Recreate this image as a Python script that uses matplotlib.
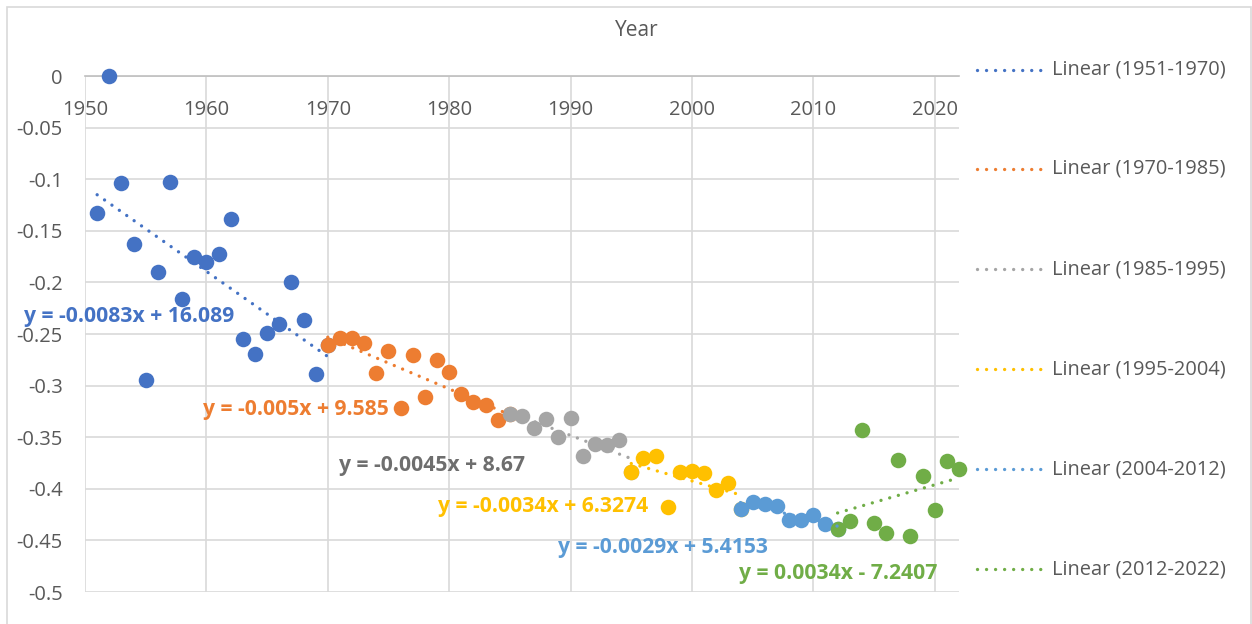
import numpy as np
import matplotlib
matplotlib.use("Agg")
import matplotlib.pyplot as plt
from matplotlib.patches import Rectangle

plt.rcParams['font.family'] = ['Open Sans', 'DejaVu Sans']

# yearly values, one array per period (endpoints shared between periods)
years_1 = list(range(1951, 1971))
vals_1 = [-0.133, 0.0, -0.104, -0.163, -0.295, -0.190, -0.103, -0.216, -0.175, -0.180,
          -0.172, -0.139, -0.255, -0.269, -0.249, -0.240, -0.200, -0.236, -0.289, -0.261]
years_2 = list(range(1970, 1986))
vals_2 = [-0.261, -0.254, -0.254, -0.259, -0.288, -0.266, -0.322, -0.270, -0.311, -0.275,
          -0.287, -0.308, -0.316, -0.319, -0.333, -0.328]
years_3 = list(range(1985, 1996))
vals_3 = [-0.328, -0.329, -0.341, -0.332, -0.350, -0.331, -0.368, -0.357, -0.358, -0.353,
          -0.384]
years_4 = list(range(1995, 2005))
vals_4 = [-0.384, -0.370, -0.368, -0.418, -0.384, -0.383, -0.385, -0.401, -0.394, -0.420]
years_5 = list(range(2004, 2013))
vals_5 = [-0.420, -0.413, -0.415, -0.417, -0.430, -0.430, -0.425, -0.434, -0.439]
years_6 = list(range(2012, 2023))
vals_6 = [-0.439, -0.431, -0.343, -0.433, -0.443, -0.372, -0.446, -0.388, -0.421, -0.373,
          -0.381]

series = [
    (years_1, vals_1, '#4472C4', '#4472C4', 'Linear (1951-1970)', 'y = -0.0083x + 16.089', (1945.0, -0.2326)),
    (years_2, vals_2, '#ED7D31', '#ED7D31', 'Linear (1970-1985)', 'y = -0.005x + 9.585', (1959.7, -0.3227)),
    (years_3, vals_3, '#A5A5A5', '#6E6E6E', 'Linear (1985-1995)', 'y = -0.0045x + 8.67', (1970.9, -0.377)),
    (years_4, vals_4, '#FFC000', '#FFC000', 'Linear (1995-2004)', 'y = -0.0034x + 6.3274', (1979.1, -0.4167)),
    (years_5, vals_5, '#5B9BD5', '#5B9BD5', 'Linear (2004-2012)', 'y = -0.0029x + 5.4153', (1989.0, -0.457)),
    (years_6, vals_6, '#70AD47', '#70AD47', 'Linear (2012-2022)', 'y = 0.0034x - 7.2407', (2003.9, -0.4816)),
]

dotted = (0, (0.01, 2.7))

fig = plt.figure(figsize=(12.52, 6.24), dpi=100)
ax = fig.add_axes([85 / 1252, 1 - 592 / 624, (959 - 85) / 1252, (592 - 76) / 624])

# chart border
fig.patches.append(Rectangle((7 / 1252, -0.1), 1244 / 1252, 1 - 7 / 624 + 0.1,
                             transform=fig.transFigure, fill=False,
                             edgecolor='#D9D9D9', linewidth=1.2))

legend_y = [70, 169, 269, 369, 469, 569]
for i, (xs, ys, col, tcol, name, eq, pos) in enumerate(series):
    xs = np.array(xs)
    ys = np.array(ys)
    ax.scatter(xs, ys, s=125, color=col, zorder=3 + i, linewidths=0, clip_on=False)
    k, b = np.polyfit(xs, ys, 1)
    xt = np.array([xs[0], xs[-1]])
    ax.plot(xt, k * xt + b, color=col, linestyle=dotted, linewidth=2.4,
            dash_capstyle='round', zorder=10, clip_on=False)
    ax.text(pos[0], pos[1], eq, color=tcol, fontsize=15.2, fontweight='bold',
            ha='left', va='center', zorder=12, clip_on=False)
    # legend entry
    ly = 1 - legend_y[i] / 624
    fig.add_artist(plt.Line2D([977 / 1252, 1045 / 1252], [ly, ly], color=col,
                              linestyle=dotted, linewidth=2.4,
                              dash_capstyle='round'))
    fig.text(1052 / 1252, ly, name, color='#595959', fontsize=14.4, ha='left', va='center')

ax.set_xlim(1950, 2022)
ax.set_ylim(-0.5, 0)
ax.set_xticks(np.arange(1950, 2021, 10))
ax.set_yticks(np.arange(-0.5, 0.001, 0.05))
ax.set_yticklabels(['-0.5', '-0.45', '-0.4', '-0.35', '-0.3', '-0.25', '-0.2',
                    '-0.15', '-0.1', '-0.05', '0'])
ax.grid(True, color='#D9D9D9', linewidth=1.2)
ax.set_axisbelow(True)
for s in ['top', 'right', 'left']:
    ax.spines[s].set_visible(False)
ax.spines['bottom'].set_position(('data', 0))
ax.spines['bottom'].set_color('#BFBFBF')
ax.spines['bottom'].set_linewidth(1.2)
ax.spines['bottom'].set_zorder(2)
ax.tick_params(axis='x', length=0, pad=17, labelsize=14.5, labelcolor='#595959')
ax.tick_params(axis='y', length=0, pad=16, labelsize=14.5, labelcolor='#595959')

fig.text(637 / 1252, 1 - 31 / 624, 'Year', fontsize=15, color='#595959', ha='center', va='center')

fig.savefig('out.png', dpi=100)
